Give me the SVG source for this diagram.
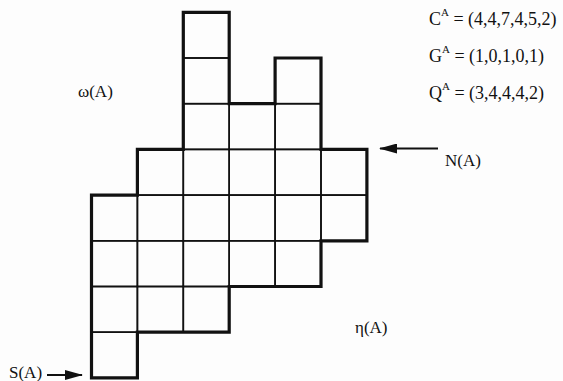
<svg xmlns="http://www.w3.org/2000/svg" width="563" height="381" viewBox="0 0 563 381">
<style>
.cell{fill:none;stroke:#111;stroke-width:1.6}
.outline{fill:none;stroke:#111;stroke-width:3.2;stroke-linejoin:miter}
.lbl{font-family:"Liberation Serif","Times New Roman",serif;font-size:17px;fill:#111}
.f{font-family:"Liberation Serif","Times New Roman",serif;font-size:18px;fill:#111}
.sup{font-size:11px}
.conn{stroke:#111;stroke-width:2;fill:none}
</style>
<defs>
<marker id="ah" viewBox="0 0 18 10" refX="17" refY="5" markerWidth="18" markerHeight="10" markerUnits="userSpaceOnUse" orient="auto">
<path d="M0,0 L18,5 L0,10 Z" fill="#111"/>
</marker>
</defs>
<rect width="563" height="381" fill="#fdfdfd"/>
<g id="polyomino">
<g id="cells">
<!-- col0 -->
<rect class="cell" x="91.5" y="195.1" width="45.9" height="45.7"/>
<rect class="cell" x="91.5" y="240.8" width="45.9" height="45.7"/>
<rect class="cell" x="91.5" y="286.5" width="45.9" height="45.7"/>
<rect class="cell" x="91.5" y="332.2" width="45.9" height="45.7"/>
<!-- col1 -->
<rect class="cell" x="137.4" y="149.4" width="45.9" height="45.7"/>
<rect class="cell" x="137.4" y="195.1" width="45.9" height="45.7"/>
<rect class="cell" x="137.4" y="240.8" width="45.9" height="45.7"/>
<rect class="cell" x="137.4" y="286.5" width="45.9" height="45.7"/>
<!-- col2 -->
<rect class="cell" x="183.3" y="12.3" width="45.9" height="45.7"/>
<rect class="cell" x="183.3" y="58" width="45.9" height="45.7"/>
<rect class="cell" x="183.3" y="103.7" width="45.9" height="45.7"/>
<rect class="cell" x="183.3" y="149.4" width="45.9" height="45.7"/>
<rect class="cell" x="183.3" y="195.1" width="45.9" height="45.7"/>
<rect class="cell" x="183.3" y="240.8" width="45.9" height="45.7"/>
<rect class="cell" x="183.3" y="286.5" width="45.9" height="45.7"/>
<!-- col3 -->
<rect class="cell" x="229.2" y="103.7" width="45.9" height="45.7"/>
<rect class="cell" x="229.2" y="149.4" width="45.9" height="45.7"/>
<rect class="cell" x="229.2" y="195.1" width="45.9" height="45.7"/>
<rect class="cell" x="229.2" y="240.8" width="45.9" height="45.7"/>
<!-- col4 -->
<rect class="cell" x="275.1" y="58" width="45.9" height="45.7"/>
<rect class="cell" x="275.1" y="103.7" width="45.9" height="45.7"/>
<rect class="cell" x="275.1" y="149.4" width="45.9" height="45.7"/>
<rect class="cell" x="275.1" y="195.1" width="45.9" height="45.7"/>
<rect class="cell" x="275.1" y="240.8" width="45.9" height="45.7"/>
<!-- col5 -->
<rect class="cell" x="321" y="149.4" width="45.9" height="45.7"/>
<rect class="cell" x="321" y="195.1" width="45.9" height="45.7"/>
</g>
<path id="outline" class="outline" d="M183.3,12.3 H229.2 V103.7 H275.1 V58 H321 V149.4 H366.9 V240.8 H321 V286.5 H229.2 V332.2 H137.4 V377.9 H91.5 V195.1 H137.4 V149.4 H183.3 Z"/>
</g>
<g id="labels">
<text id="omega" class="lbl" x="78" y="97">ω(A)</text>
<text id="N" class="lbl" x="445" y="166">N(A)</text>
<text id="eta" class="lbl" x="355" y="333">η(A)</text>
<text id="S" class="lbl" x="9" y="378">S(A)</text>
</g>
<g id="formulas">
<text class="f" x="429" y="25">C<tspan class="sup" dy="-9">A</tspan><tspan dy="9"> = (4,4,7,4,5,2)</tspan></text>
<text class="f" x="429" y="62">G<tspan class="sup" dy="-9">A</tspan><tspan dy="9"> = (1,0,1,0,1)</tspan></text>
<text class="f" x="429" y="99">Q<tspan class="sup" dy="-9">A</tspan><tspan dy="9"> = (3,4,4,4,2)</tspan></text>
</g>
<g id="connectors">
<line class="conn" x1="438" y1="148.5" x2="380" y2="148.5" marker-end="url(#ah)"/>
<line class="conn" x1="47" y1="375" x2="82" y2="375" marker-end="url(#ah)"/>
</g>
</svg>
